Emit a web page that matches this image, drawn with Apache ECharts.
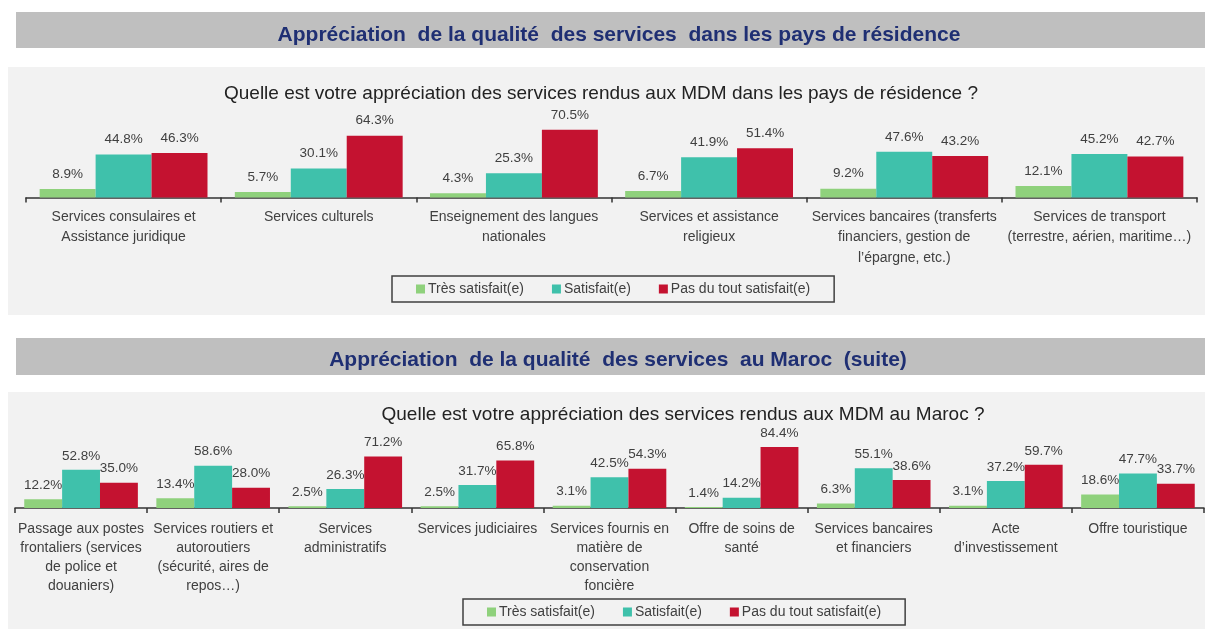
<!DOCTYPE html>
<html>
<head>
<meta charset="utf-8">
<script src="https://cdn.jsdelivr.net/npm/echarts@6/dist/echarts.min.js"></script>
<style>
  html, body { margin: 0; padding: 0; background: #fff; }
  #chart { width: 1205px; height: 629px; }
</style>
</head>
<body>
<div id="chart"></div>
<script>
// haut : pays de résidence
const residenceCategories = [
  'Services consulaires et\nAssistance juridique',
  'Services culturels',
  'Enseignement des langues\nnationales',
  'Services et assistance\nreligieux',
  'Services bancaires (transferts\nfinanciers, gestion de\nl’épargne, etc.)',
  'Services de transport\n(terrestre, aérien, maritime…)'
];
const residenceTres = [8.9, 5.7, 4.3, 6.7, 9.2, 12.1];
const residenceSatisfait = [44.8, 30.1, 25.3, 41.9, 47.6, 45.2];
const residencePas = [46.3, 64.3, 70.5, 51.4, 43.2, 42.7];

// bas : Maroc
const marocCategories = [
  'Passage aux postes\nfrontaliers (services\nde police et\ndouaniers)',
  'Services routiers et\nautoroutiers\n(sécurité, aires de\nrepos…)',
  'Services\nadministratifs',
  'Services judiciaires',
  'Services fournis en\nmatière de\nconservation\nfoncière',
  'Offre de soins de\nsanté',
  'Services bancaires\net financiers',
  'Acte\nd’investissement',
  'Offre touristique'
];
const marocTres = [12.2, 13.4, 2.5, 2.5, 3.1, 1.4, 6.3, 3.1, 18.6];
const marocSatisfait = [52.8, 58.6, 26.3, 31.7, 42.5, 14.2, 55.1, 37.2, 47.7];
const marocPas = [35.0, 28.0, 71.2, 65.8, 54.3, 84.4, 38.6, 59.7, 33.7];

const seriesNames = ['Très satisfait(e)', 'Satisfait(e)', 'Pas du tout satisfait(e)'];
const colors = ['#8fd17c', '#3fc1ab', '#c41230'];

const FONT = '"Liberation Sans", Arial, sans-serif';
const textGrey = '#404040';

let chart = echarts.init(document.getElementById('chart'));

function barSeries(name, data, idx, color, dist) {
  return {
    name: name,
    type: 'bar',
    xAxisIndex: idx,
    yAxisIndex: idx,
    data: data,
    barGap: '0%',
    barCategoryGap: '14%',
    itemStyle: { color: color },
    label: {
      show: true,
      position: 'top',
      distance: dist,
      color: textGrey,
      fontFamily: FONT,
      fontSize: 13.5,
      formatter: p => p.value.toFixed(1) + '%'
    }
  };
}

function xAxisOf(idx, cats, lh, margin) {
  return {
    type: 'category',
    gridIndex: idx,
    data: cats,
    axisLine: { lineStyle: { color: '#333', width: 1.5 } },
    axisTick: { show: true, length: 5, lineStyle: { color: '#333', width: 1.5 } },
    axisLabel: {
      interval: 0,
      color: textGrey,
      fontFamily: FONT,
      fontSize: 14,
      lineHeight: lh,
      margin: margin
    }
  };
}

const legendBase = {
  data: seriesNames,
  icon: 'rect',
  itemWidth: 9,
  itemHeight: 9,
  itemGap: 28,
  padding: [6, 24, 6, 24],
  borderColor: '#404040',
  borderWidth: 1.5,
  backgroundColor: '#f2f2f2',
  textStyle: { color: textGrey, fontFamily: FONT, fontSize: 14, padding: [0, 0, 0, -2] }
};

const option = {
  animation: false,
  backgroundColor: '#ffffff',
  graphic: [
    { type: 'rect', z: -10, shape: { x: 16, y: 12, width: 1189, height: 36 }, style: { fill: '#bfbfbf' } },
    { type: 'rect', z: -10, shape: { x: 8, y: 67, width: 1197, height: 248 }, style: { fill: '#f2f2f2' } },
    { type: 'rect', z: -10, shape: { x: 16, y: 338, width: 1189, height: 37 }, style: { fill: '#bfbfbf' } },
    { type: 'rect', z: -10, shape: { x: 8, y: 392, width: 1197, height: 237 }, style: { fill: '#f2f2f2' } }
  ],
  title: [
    {
      text: 'Appréciation  de la qualité  des services  dans les pays de résidence',
      left: 614, top: 20, textAlign: 'center',
      textStyle: { color: '#1f2f73', fontFamily: FONT, fontSize: 21, fontWeight: 'bold' }
    },
    {
      text: 'Quelle est votre appréciation des services rendus aux MDM dans les pays de résidence ?',
      left: 596, top: 79, textAlign: 'center',
      textStyle: { color: '#222', fontFamily: FONT, fontSize: 19, fontWeight: 'normal' }
    },
    {
      text: 'Appréciation  de la qualité  des services  au Maroc  (suite)',
      left: 613, top: 345, textAlign: 'center',
      textStyle: { color: '#1f2f73', fontFamily: FONT, fontSize: 21, fontWeight: 'bold' }
    },
    {
      text: 'Quelle est votre appréciation des services rendus aux MDM au Maroc ?',
      left: 678, top: 400, textAlign: 'center',
      textStyle: { color: '#222', fontFamily: FONT, fontSize: 19, fontWeight: 'normal' }
    }
  ],
  legend: [
    Object.assign({}, legendBase, { left: 392, top: 276 }),
    Object.assign({}, legendBase, { left: 463, top: 599 })
  ],
  grid: [
    { left: 26, right: 8, top: 101.5, bottom: 431.5 },
    { left: 15, right: 1, top: 435.7, bottom: 121 }
  ],
  xAxis: [
    xAxisOf(0, residenceCategories, 20.5, 9),
    xAxisOf(1, marocCategories, 19, 12)
  ],
  yAxis: [
    { type: 'value', gridIndex: 0, min: 0, max: 100, show: false },
    { type: 'value', gridIndex: 1, min: 0, max: 100, show: false }
  ],
  series: [
    barSeries(seriesNames[0], residenceTres, 0, colors[0], 8),
    barSeries(seriesNames[1], residenceSatisfait, 0, colors[1], 8),
    barSeries(seriesNames[2], residencePas, 0, colors[2], 8),
    barSeries(seriesNames[0], marocTres, 1, colors[0], 7),
    barSeries(seriesNames[1], marocSatisfait, 1, colors[1], 7),
    barSeries(seriesNames[2], marocPas, 1, colors[2], 7)
  ]
};

chart.setOption(option);
</script>
</body>
</html>
